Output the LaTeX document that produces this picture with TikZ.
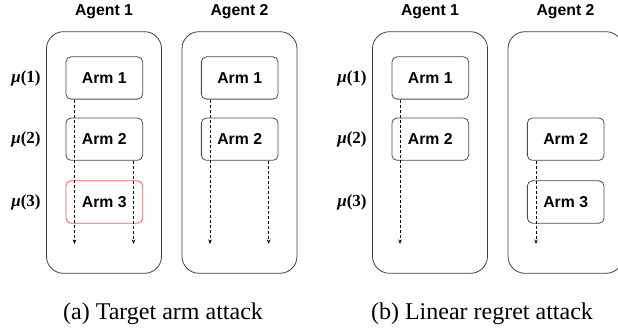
\documentclass[tikz,border=0pt]{standalone}
\usepackage[no-math]{fontspec}
\setmainfont{Liberation Serif}
\newfontfamily\helv{Liberation Sans}
\usetikzlibrary{arrows.meta}
\definecolor{armred}{HTML}{F25A5A}
\newcommand{\boldmulab}[1]{{\bfseries\itshape μ}{\bfseries(#1)}}
\begin{document}
\begin{tikzpicture}[x=1pt,y=-1pt,
  agentbox/.style={draw=black!75, line width=0.8pt, rounded corners=17pt, minimum width=115pt, minimum height=241.6pt, inner sep=0pt},
  armbox/.style={draw=black!70, line width=0.8pt, rounded corners=5pt, minimum width=76.7pt, minimum height=42.3pt, inner sep=0pt, font=\helv\bfseries\fontsize{15.8}{18}\selectfont},
  redbox/.style={armbox, draw=armred},
  title/.style={font=\helv\bfseries\fontsize{15.8}{18}\selectfont, inner sep=0pt},
  mulabel/.style={font=\fontsize{17}{20}\selectfont, inner sep=0pt},
  caption/.style={font=\fontsize{24}{27}\selectfont, inner sep=0pt},
  dasharrow/.style={draw=black, line width=0.9pt, dash pattern=on 3pt off 2pt, -{Stealth[length=4.5pt,width=3.5pt]}}
]
\useasboundingbox (0,0) rectangle (618,331);
\clip (0,0) rectangle (618,331);

% ---------------- panel (a) ----------------
\node[agentbox] (aA1) at (104,152.5) {};
\node[agentbox] (aA2) at (239.5,152.5) {};
\node[title] (taA1) at (104,12) {Agent 1};
\node[title] (taA2) at (239.5,12) {Agent 2};

\node[mulabel] (amu1) at (26,78) {\boldmulab{1}};
\node[mulabel] (amu2) at (26,139) {\boldmulab{2}};
\node[mulabel] (amu3) at (26,202) {\boldmulab{3}};

\node[armbox] (a11) at (104.3,78) {Arm 1};
\node[armbox] (a12) at (104.3,139.2) {Arm 2};
\node[redbox] (a13) at (104.3,202) {Arm 3};
\node[armbox] (a21) at (239.7,78) {Arm 1};
\node[armbox] (a22) at (239.7,139.2) {Arm 2};

\coordinate (ea1) at (74.5,244);
\coordinate (ea2) at (133.5,244);
\coordinate (ea3) at (210,244);
\coordinate (ea4) at (268.7,244);
\draw[dasharrow] (a11.south -| ea1) -- (ea1);
\draw[dasharrow] (a12.south -| ea2) -- (ea2);
\draw[dasharrow] (a21.south -| ea3) -- (ea3);
\draw[dasharrow] (a22.south -| ea4) -- (ea4);

\node[caption] (capa) at (163,314) {(a) Target arm attack};

% ---------------- panel (b) ----------------
\node[agentbox] (bA1) at (430,152.5) {};
\node[agentbox] (bA2) at (565.5,152.5) {};
\node[title] (tbA1) at (430,12) {Agent 1};
\node[title] (tbA2) at (565.5,12) {Agent 2};

\node[mulabel] (bmu1) at (352,78) {\boldmulab{1}};
\node[mulabel] (bmu2) at (352,139) {\boldmulab{2}};
\node[mulabel] (bmu3) at (352,202) {\boldmulab{3}};

\node[armbox] (b11) at (430.3,78) {Arm 1};
\node[armbox] (b12) at (430.3,139.2) {Arm 2};
\node[armbox] (b22) at (565.7,139.2) {Arm 2};
\node[armbox] (b23) at (565.7,202) {Arm 3};

\coordinate (eb1) at (400,244);
\coordinate (eb2) at (536,244);
\draw[dasharrow] (b11.south -| eb1) -- (eb1);
\draw[dasharrow] (b22.south -| eb2) -- (eb2);

\node[caption] (capb) at (482,314) {(b) Linear regret attack};
\end{tikzpicture}
\end{document}
